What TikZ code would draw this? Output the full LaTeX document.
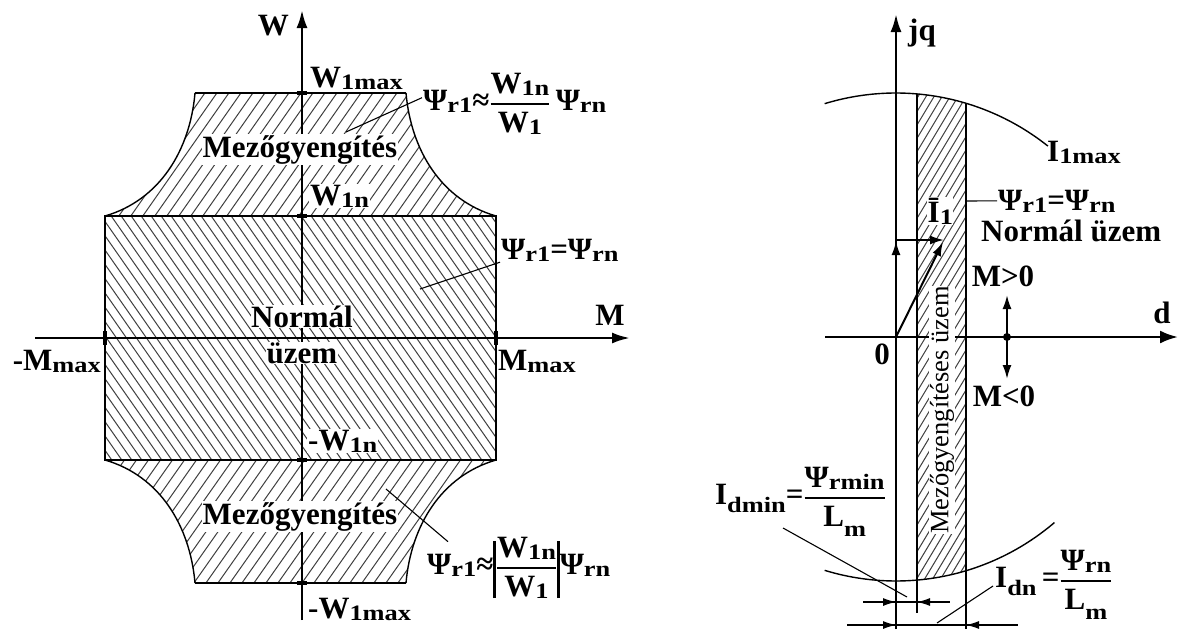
\documentclass[tikz,border=0pt]{standalone}
\usepackage{amsmath}
\usepackage{fontspec}
\setmainfont{Liberation Serif}
\newfontfamily\subfnt[FakeStretch=1.2]{Liberation Serif}
\usetikzlibrary{arrows.meta}
\newcommand\sbx[1]{\raisebox{-2pt}{\subfnt\bfseries\fontsize{22}{22}\selectfont #1}}
\newcommand\sbl[2]{\raisebox{-#1}{\subfnt\bfseries\fontsize{22}{22}\selectfont #2}}
\newcommand\frx[2]{\ensuremath{\genfrac{}{}{2.4pt}{0}{\text{#1}}{\text{#2}}}}
\begin{document}
\begin{tikzpicture}[x=1pt,y=-1pt,
  lbl/.style={font=\fontsize{31}{34}\selectfont\bfseries, inner sep=1pt},
  lblw/.style={lbl, fill=white},
  axisline/.style={line width=2.6pt, -{Latex[length=18pt,width=11pt]}},
  frame/.style={line width=2.4pt},
  curve/.style={line width=1.4pt},
  hatch/.style={line width=1pt, black!75},
  lead/.style={line width=1.1pt},
  dim/.style={line width=1.1pt},
  dimtip/.style={line width=1.1pt, -{Latex[length=13pt,width=8pt]}},
  vec/.style={line width=2pt, -{Latex[length=14pt,width=9pt]}},
  tick/.style={line width=4pt},
]
\useasboundingbox[fill=white] (0,0) rectangle (1180,629);

% ---------------- left diagram: hatching ----------------
\begin{scope}
  \clip (105,216) .. controls (160,200) and (190,150) .. (195,93) -- (406,93)
        .. controls (411,150) and (441,200) .. (496,216) -- cycle;
  \foreach \c in {150,162,...,690} \draw[hatch] (\c-56,80) -- (\c-161,230);
\end{scope}
\begin{scope}
  \clip (105,216) rectangle (496,460);
  \foreach \c in {-240,-230,...,370} \draw[hatch] (\c+147,210) -- (\c+326,466);
\end{scope}
\begin{scope}
  \clip (105,460) .. controls (160,476) and (190,526) .. (195,583) -- (406,583)
        .. controls (411,526) and (441,476) .. (496,460) -- cycle;
  \foreach \c in {410,422,...,930} \draw[hatch] (\c-318,455) -- (\c-413,590);
\end{scope}

% ---------------- left diagram: outlines ----------------
\draw[curve] (105,216) .. controls (160,200) and (190,150) .. (195,93);
\draw[curve] (406,93) .. controls (411,150) and (441,200) .. (496,216);
\draw[curve] (105,460) .. controls (160,476) and (190,526) .. (195,583);
\draw[curve] (406,583) .. controls (411,526) and (441,476) .. (496,460);
\draw[frame] (195,93) -- (406,93);
\draw[frame] (195,583) -- (406,583);
\draw[frame] (105,216) rectangle (496,460);
\foreach \yy in {93,216,460,583} \draw[tick] (297,\yy) -- (307,\yy);

% W axis
\coordinate (wbot) at (302,620);
\coordinate (wtop) at (302,10);
\draw[axisline] (wbot) -- (wtop);

% labels left
\node[lbl, anchor=base east] (lW) at (290,35) {W};
\node[lbl, anchor=base west] (lW1max) at (309,87) {W\sbx{1max}};
\node[lblw, anchor=base west] (lW1n) at (309,205) {W\sbx{1n}};
\node[lblw, anchor=base west] (lmW1n) at (307,450) {-W\sbx{1n}};
\node[lbl, anchor=base west] (lmW1max) at (307,618) {-W\sbx{1max}};
\node[lblw, anchor=base] (mezo1) at (300,157) {Mezőgyengítés};
\node[lblw, anchor=base] (mezo2) at (300,524) {Mezőgyengítés};
\node[lblw, anchor=base, inner sep=0.5pt] (norm) at (302,327) {Normál};
\node[lblw, anchor=base, inner sep=0.5pt] (uzem) at (302,363) {üzem};
\node[lbl, anchor=base east] (lmMmax) at (102,370) {-M\sbx{max}};
\node[lbl, anchor=base west] (lMmax) at (497,370) {M\sbx{max}};
\node[lbl, anchor=base] (lM) at (610,325) {M};

\node[lbl, anchor=base west] (f1) at (422,110)
  {Ψ\sbx{r1}≈\frx{W\sbx{1n}}{W\sbx{1}}\,Ψ\sbx{rn}};
\node[lbl, anchor=base west] (f2) at (500,259) {Ψ\sbx{r1}=Ψ\sbx{rn}};
\node[lbl, anchor=base west] (f3) at (426,574)
  {Ψ\sbx{r1}≈\rule[-24pt]{2.6pt}{57pt}\frx{W\sbx{1n}}{W\sbx{1}}\rule[-24pt]{2.6pt}{57pt}Ψ\sbx{rn}};

\coordinate (p1) at (346,132);
\coordinate (p2) at (420,289);
\coordinate (p3) at (386,489);
\draw[lead] (f1.west) ++(0,-6) -- (p1);
\draw[lead] (f2.south west) -- (p2);
\draw[lead] (f3.north west) ++(22,6) -- (p3);

% M axis
\coordinate (mleft) at (35,338);
\coordinate (mright) at (630,338);
\draw[axisline] (mleft) -- (mright);
\draw[tick] (105,331) -- (105,345);
\draw[tick] (496,331) -- (496,345);

% ---------------- right diagram ----------------
\coordinate (O) at (896,337);
\begin{scope}
  \clip (917,0) rectangle (966,629);
  \clip (896,337) circle[radius=244pt];
  \foreach \c in {960,968,...,1330} \draw[hatch] (\c-51,85) -- (\c-354,590);
\end{scope}
\draw[curve] plot[domain=51.5:107, samples=60] ({896+244*cos(\x)},{337-244*sin(\x)});
\draw[curve] plot[domain=-107:-49.5, samples=60] ({896+244*cos(\x)},{337-244*sin(\x)});
\draw[frame] (917,94) -- (917,613);
\draw[frame] (966,103) -- (966,629);

\coordinate (jqbot) at (896,629);
\coordinate (jqtop) at (896,14);
\draw[axisline] (jqbot) -- (jqtop);
\coordinate (dleft) at (825,337);
\coordinate (dright) at (1178,337);
\draw[line width=2.6pt, -{Latex[length=18pt,width=13pt]}] (dleft) -- (dright);

% I1 vectors
\coordinate (q1) at (896,241);
\coordinate (h0) at (896,240);
\coordinate (h1) at (944,240);
\coordinate (i1) at (943,242);
\draw[vec] (O) -- (q1);
\draw[vec] (h0) -- (h1);
\draw[vec] (O) -- (i1);

% M>0 / M<0
\coordinate (mp) at (1007,337);
\coordinate (mup) at (1007,295);
\coordinate (mdn) at (1007,379);
\fill (mp) circle[radius=4pt];
\draw[vec] (mp) -- (mup);
\draw[vec] (mp) -- (mdn);

\node[font=\fontsize{26.5}{26}\selectfont, rotate=90, fill=white, inner sep=0.5pt] (mezo3) at (942,410) {Mezőgyengítéses üzem};
\node[lblw, anchor=base west, inner sep=0.5pt] (lI1) at (927,222) {Ī\sbx{1}};

\node[lbl, anchor=base west] (ljq) at (907,40) {jq};
\node[lbl, anchor=base west] (lI1max) at (1046,161) {I\sbx{1max}};
\node[lbl, anchor=base west] (f4) at (997,210) {Ψ\sbx{r1}=Ψ\sbx{rn}};
\node[lbl, anchor=base west] (lnorm) at (980,241) {Normál üzem};
\node[lbl, anchor=base] (lMp) at (1003,286) {M>0};
\node[lbl, anchor=base] (lMn) at (1004,406) {M<0};
\node[lbl, anchor=base] (ld) at (1162,323) {d};
\node[lbl, anchor=base] (l0) at (882,364) {0};
\draw[lead] (966,201) -- (f4.west);

% dimensions
\coordinate (a1) at (863,602);
\coordinate (a2) at (950,602);
\draw[dim] (a1) -- (a2);
\draw[dimtip] (870,602) -- (896,602);
\draw[dimtip] (943,602) -- (917,602);
\coordinate (b1) at (847,625);
\coordinate (b2) at (1018,625);
\draw[dim] (b1) -- (b2);
\draw[dimtip] (870,625) -- (896,625);
\draw[dimtip] (992,625) -- (966,625);

\node[lbl, anchor=east] (fdmin) at (887,502)
  {I\sbl{8pt}{dmin}=\frx{Ψ\sbx{rmin}}{L\sbl{10pt}{m}}};
\node[lbl, anchor=west] (fdn) at (994,585)
  {I\sbl{8pt}{dn}\,=\frx{Ψ\sbx{rn}}{L\sbl{10pt}{m}}};
\coordinate (e1) at (907,597);
\coordinate (e2) at (937,623);
\draw[lead] (783,528) -- (e1);
\draw[lead] (e2) -- (993,586);
\end{tikzpicture}
\end{document}
